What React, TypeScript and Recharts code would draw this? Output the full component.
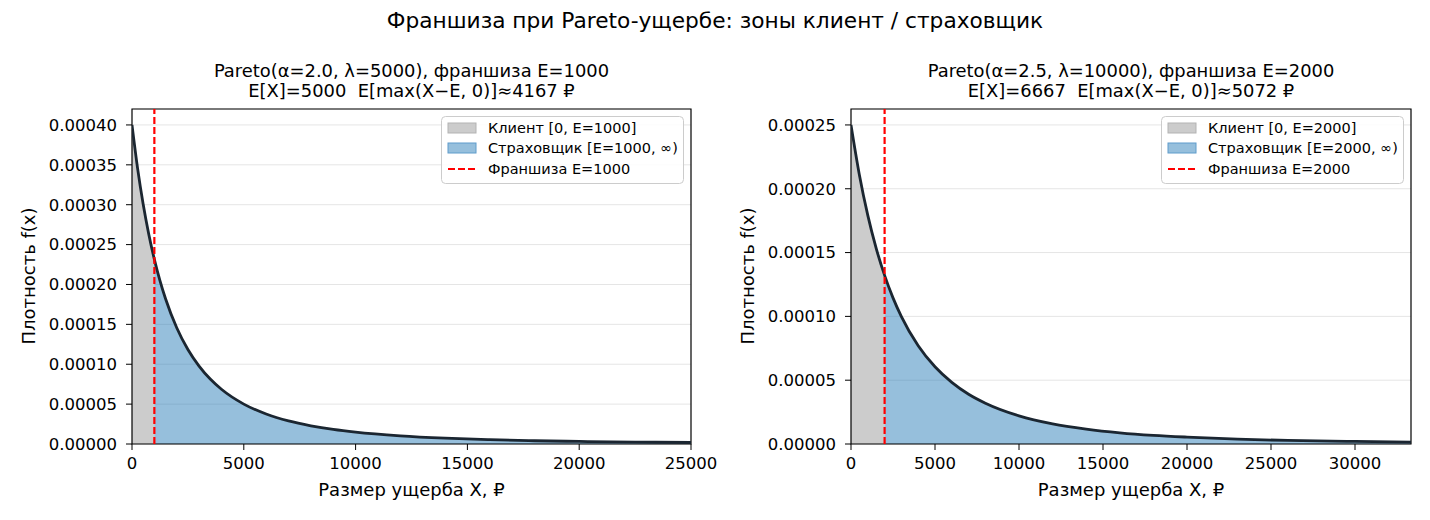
import React from 'react';
import {
  ComposedChart,
  Area,
  Line,
  XAxis,
  YAxis,
  CartesianGrid,
  ReferenceLine,
  ReferenceArea,
} from 'recharts';

// ---------- data ----------
const LEFT_X = [0, 250, 500, 750, 1000, 1250, 1500, 2000, 2500, 3000, 3500, 4000, 5000, 6000, 7000, 8000, 9000, 10000, 12000, 14000, 16000, 18000, 20000, 22500, 25000];
const LEFT_F = [0.0004, 0.0003455, 0.0003005, 0.000263, 0.0002315, 0.0002048, 0.0001821, 0.0001458, 0.0001185, 0.0000977, 0.0000814, 0.0000686, 0.00005, 0.0000376, 0.0000289, 0.0000228, 0.0000182, 0.0000148, 0.0000102, 0.0000073, 0.0000054, 0.0000041, 0.0000032, 0.0000024, 0.0000019];
const LEFT_E = 1000;
const LEFT_X_TICKS = [0, 5000, 10000, 15000, 20000, 25000];
const LEFT_Y_TICKS = [0, 0.00005, 0.0001, 0.00015, 0.0002, 0.00025, 0.0003, 0.00035, 0.0004];
const LEFT_X_MAX = 25000;
const LEFT_Y_MAX = 0.00042;

const RIGHT_X = [0, 500, 1000, 1500, 2000, 2500, 3000, 4000, 5000, 6000, 7000, 8000, 10000, 12000, 14000, 16000, 18000, 20000, 23000, 26000, 30000, 33333];
const RIGHT_F = [0.00025, 0.0002108, 0.0001791, 0.0001533, 0.0001321, 0.0001145, 0.0000998, 0.000077, 0.0000605, 0.0000483, 0.000039, 0.000032, 0.0000221, 0.0000158, 0.0000117, 0.0000088, 0.0000068, 0.0000054, 0.0000038, 0.0000028, 0.000002, 0.0000015];
const RIGHT_E = 2000;
const RIGHT_X_TICKS = [0, 5000, 10000, 15000, 20000, 25000, 30000];
const RIGHT_Y_TICKS = [0, 0.00005, 0.0001, 0.00015, 0.0002, 0.00025];
const RIGHT_X_MAX = 33333;
const RIGHT_Y_MAX = 0.0002625;

const MAIN_TITLE = 'Франшиза при Pareto-ущербе: зоны клиент / страховщик';
const LEFT_TITLE = ['Pareto(α=2.0, λ=5000), франшиза E=1000', 'E[X]=5000  E[max(X−E, 0)]≈4167 ₽'];
const RIGHT_TITLE = ['Pareto(α=2.5, λ=10000), франшиза E=2000', 'E[X]=6667  E[max(X−E, 0)]≈5072 ₽'];
const LEFT_LEGEND = ['Клиент [0, E=1000]', 'Страховщик [E=1000, ∞)', 'Франшиза E=1000'];
const RIGHT_LEGEND = ['Клиент [0, E=2000]', 'Страховщик [E=2000, ∞)', 'Франшиза E=2000'];
const X_LABEL = 'Размер ущерба X, ₽';
const Y_LABEL = 'Плотность f(x)';

const FONT = 'DejaVu Sans';
const CURVE = '#1b2631';
const GRAY = '#cccccc';
const BLUE = '#1f77b4';

type PanelProps = {
  xs: number[];
  fs: number[];
  e: number;
  xMax: number;
  yMax: number;
  xTicks: number[];
  yTicks: number[];
  left: number;
  plotLeft: number;
  plotRight: number;
};

const W = 740;
const H = 520;
const PLOT_TOP = 109;
const PLOT_BOTTOM = 444;
const Y_AXIS_W = 80;
const X_AXIS_H = 30;

function Panel({ xs, fs, e, xMax, yMax, xTicks, yTicks, left, plotLeft, plotRight }: PanelProps) {
  const data = xs.map((x, i) => ({
    x,
    f: fs[i],
    client: x <= e ? fs[i] : null,
    insurer: x >= e ? fs[i] : null,
  }));
  const tickStyle = { fontSize: 16.5, fill: '#000', fontFamily: FONT };
  return (
    <div style={{ position: 'absolute', left, top: 0, width: W, height: H }}>
      <ComposedChart
        width={W}
        height={H}
        data={data}
        margin={{
          top: PLOT_TOP,
          left: plotLeft - Y_AXIS_W,
          right: W - plotRight,
          bottom: H - PLOT_BOTTOM - X_AXIS_H,
        }}
      >
        <CartesianGrid vertical={false} stroke="#e5e5e5" strokeWidth={1} />
        <XAxis
          dataKey="x"
          type="number"
          domain={[0, xMax]}
          ticks={xTicks}
          allowDataOverflow
          height={X_AXIS_H}
          axisLine={false}
          tickLine={{ stroke: '#000' }}
          tickSize={6}
          tickMargin={7}
          tick={tickStyle}
          tickFormatter={(v: number) => String(v)}
          interval={0}
        />
        <YAxis
          type="number"
          domain={[0, yMax]}
          ticks={yTicks}
          allowDataOverflow
          width={Y_AXIS_W}
          axisLine={false}
          tickLine={{ stroke: '#000' }}
          tickSize={6}
          tickMargin={9}
          tick={tickStyle}
          tickFormatter={(v: number) => v.toFixed(5)}
          interval={0}
        />
        <Area
          dataKey="client"
          type="monotone"
          fill={GRAY}
          fillOpacity={1}
          stroke="none"
          baseValue={0}
          isAnimationActive={false}
          dot={false}
          activeDot={false}
        />
        <Area
          dataKey="insurer"
          type="monotone"
          fill={BLUE}
          fillOpacity={0.47}
          stroke="none"
          baseValue={0}
          isAnimationActive={false}
          dot={false}
          activeDot={false}
        />
        <Line
          dataKey="f"
          type="monotone"
          stroke={CURVE}
          strokeWidth={2.8}
          dot={false}
          activeDot={false}
          isAnimationActive={false}
        />
        <ReferenceLine x={e} stroke="#ff0000" strokeWidth={2.2} strokeDasharray="7 3" />
        <ReferenceArea
          x1={0}
          x2={xMax}
          y1={0}
          y2={yMax}
          fill="none"
          fillOpacity={0}
          stroke="#000"
          strokeWidth={1.2}
          ifOverflow="visible"
        />
      </ComposedChart>
    </div>
  );
}

function Legend({ x, y, labels }: { x: number; y: number; labels: string[] }) {
  const w = 242;
  const h = 67;
  const rows = [y + 12, y + 32, y + 53];
  return (
    <g>
      <rect x={x + 0.5} y={y + 0.5} width={w} height={h} rx={4} fill="#ffffff" fillOpacity={0.85} stroke="#cccccc" />
      <rect x={x + 7} y={rows[0] - 5} width={28} height={10} fill={GRAY} stroke="#b3b3b3" strokeWidth={1} />
      <rect x={x + 7} y={rows[1] - 5} width={28} height={10} fill={BLUE} fillOpacity={0.47} stroke="#5f9ccb" strokeWidth={1} />
      <line x1={x + 7} x2={x + 35} y1={rows[2]} y2={rows[2]} stroke="#ff0000" strokeWidth={2.2} strokeDasharray="7 3" />
      {labels.map((t, i) => (
        <text key={i} x={x + 47} y={rows[i] + 5} fontSize={14.5} fontFamily={FONT} fill="#000">
          {t}
        </text>
      ))}
    </g>
  );
}

const pre = { whiteSpace: 'pre' as const };

export default function App() {
  const leftCenter = (132 + 691) / 2;
  const rightCenter = (851 + 1411) / 2;
  return (
    <div style={{ position: 'absolute', left: 0, top: 0, width: 1430, height: 520, background: '#fff', overflow: 'hidden' }}>
      <Panel
        xs={LEFT_X}
        fs={LEFT_F}
        e={LEFT_E}
        xMax={LEFT_X_MAX}
        yMax={LEFT_Y_MAX}
        xTicks={LEFT_X_TICKS}
        yTicks={LEFT_Y_TICKS}
        left={0}
        plotLeft={132}
        plotRight={691}
      />
      <Panel
        xs={RIGHT_X}
        fs={RIGHT_F}
        e={RIGHT_E}
        xMax={RIGHT_X_MAX}
        yMax={RIGHT_Y_MAX}
        xTicks={RIGHT_X_TICKS}
        yTicks={RIGHT_Y_TICKS}
        left={690}
        plotLeft={851 - 690}
        plotRight={1411 - 690}
      />
      <svg
        width={1430}
        height={520}
        style={{ position: 'absolute', left: 0, top: 0, pointerEvents: 'none' }}
      >
        <text x={715} y={28} textAnchor="middle" fontSize={21.7} fontFamily={FONT} fill="#000">
          {MAIN_TITLE}
        </text>
        <text x={leftCenter} y={77} textAnchor="middle" fontSize={17.9} fontFamily={FONT} fill="#000" style={pre}>
          {LEFT_TITLE[0]}
        </text>
        <text x={leftCenter} y={97} textAnchor="middle" fontSize={17.9} fontFamily={FONT} fill="#000" style={pre}>
          {LEFT_TITLE[1]}
        </text>
        <text x={rightCenter} y={77} textAnchor="middle" fontSize={17.9} fontFamily={FONT} fill="#000" style={pre}>
          {RIGHT_TITLE[0]}
        </text>
        <text x={rightCenter} y={97} textAnchor="middle" fontSize={17.9} fontFamily={FONT} fill="#000" style={pre}>
          {RIGHT_TITLE[1]}
        </text>
        <text x={leftCenter} y={496} textAnchor="middle" fontSize={18} fontFamily={FONT} fill="#000">
          {X_LABEL}
        </text>
        <text x={rightCenter} y={496} textAnchor="middle" fontSize={18} fontFamily={FONT} fill="#000">
          {X_LABEL}
        </text>
        <text
          x={35}
          y={276}
          textAnchor="middle"
          fontSize={18}
          fontFamily={FONT}
          fill="#000"
          transform="rotate(-90 35 276)"
        >
          {Y_LABEL}
        </text>
        <text
          x={754}
          y={276}
          textAnchor="middle"
          fontSize={18}
          fontFamily={FONT}
          fill="#000"
          transform="rotate(-90 754 276)"
        >
          {Y_LABEL}
        </text>
        <Legend x={441} y={116} labels={LEFT_LEGEND} />
        <Legend x={1161} y={116} labels={RIGHT_LEGEND} />
      </svg>
    </div>
  );
}
